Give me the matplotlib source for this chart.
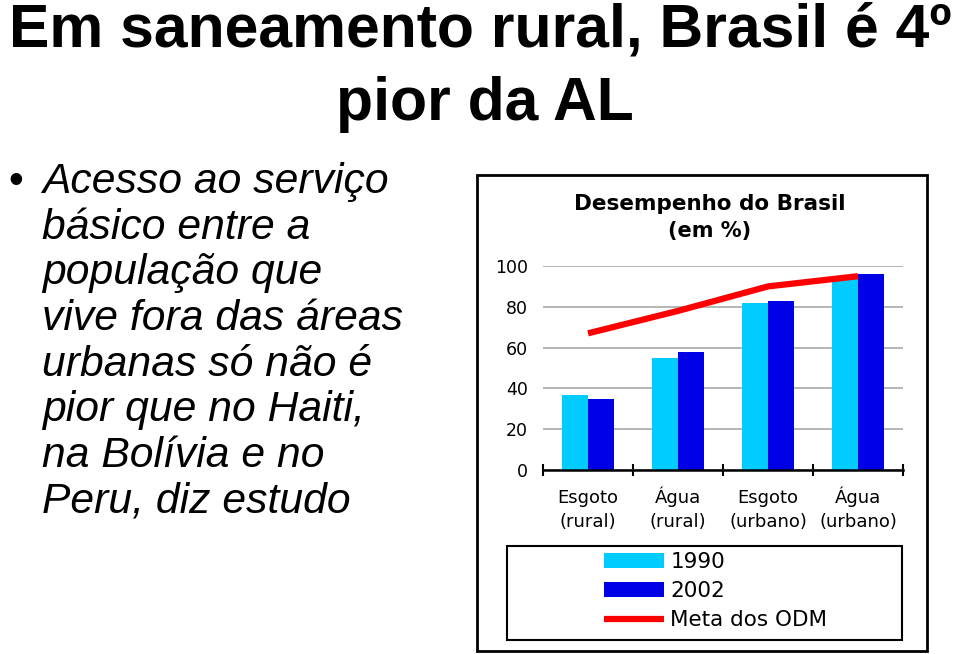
import matplotlib
matplotlib.use('Agg')
import matplotlib.pyplot as plt
from matplotlib.patches import Rectangle
import numpy as np

# data
categorias = ['Esgoto\n(rural)', 'Água\n(rural)', 'Esgoto\n(urbano)', 'Água\n(urbano)']
v1990 = [37, 55, 82, 94]
v2002 = [35, 58, 83, 96]
meta_odm = [67, 78, 90, 95]
yticks = [0, 20, 40, 60, 80, 100]

titulo1 = 'Em saneamento rural, Brasil é 4º'
titulo2 = 'pior da AL'
bullet = ['Acesso ao serviço', 'básico entre a', 'população que',
          'vive fora das áreas', 'urbanas só não é', 'pior que no Haiti,',
          'na Bolívia e no', 'Peru, diz estudo']

W, H = 960, 654
fig = plt.figure(figsize=(W / 100, H / 100), dpi=100)
fig.patch.set_facecolor('white')

def fx(px):
    return px / W

def fy(py):
    return 1 - py / H

# slide title
fig.text(0.5, fy(47), titulo1, ha='center', va='baseline', fontsize=43.7,
         fontweight='bold', family='Liberation Sans')
fig.text(fx(485), fy(120), titulo2, ha='center', va='baseline', fontsize=43.7,
         fontweight='bold', family='Liberation Sans')

# bullet text
fig.text(fx(8), fy(193), '•', ha='left', va='baseline', fontsize=30.5,
         family='Liberation Sans')
for i, linha in enumerate(bullet):
    fig.text(fx(42), fy(193 + 45.7 * i), linha, ha='left', va='baseline',
             fontsize=30.7, style='italic', family='Liberation Sans')

# chart picture frame
fig.patches.append(Rectangle((fx(477), fy(651)), fx(927) - fx(477), fy(175) - fy(651),
                             transform=fig.transFigure, facecolor='white',
                             edgecolor='black', lw=2, zorder=0))
fig.text(fx(710), fy(204), 'Desempenho do Brasil', ha='center', va='center',
         fontsize=15.5, fontweight='bold', family='DejaVu Sans')
fig.text(fx(710), fy(231), '(em %)', ha='center', va='center',
         fontsize=15, fontweight='bold', family='DejaVu Sans')

ax = fig.add_axes([fx(543), fy(470), fx(903) - fx(543), fy(266) - fy(470)])
ax.set_zorder(2)
ax.patch.set_alpha(0)
x = np.arange(len(categorias))
w = 0.29
b1 = ax.bar(x - w / 2, v1990, w, color='#00CCFF', label='1990', zorder=2)
b2 = ax.bar(x + w / 2, v2002, w, color='#0000E6', label='2002', zorder=2)
ln, = ax.plot(x, meta_odm, color='#FF0000', lw=4.5, solid_capstyle='butt',
              label='Meta dos ODM', zorder=3)

ax.set_xlim(-0.5, len(categorias) - 0.5)
ax.set_ylim(0, 100)
ax.set_yticks(yticks)
ax.set_yticklabels([str(t) for t in yticks], fontsize=12.5, family='DejaVu Sans')
ax.yaxis.grid(True, color='#B0B0B0', lw=1.3, zorder=0)
ax.set_axisbelow(True)
ax.tick_params(axis='y', length=0, pad=11)
ax.set_xticks(x)
ax.set_xticklabels(categorias, fontsize=13, family='DejaVu Sans', linespacing=1.45)
for lab in ax.get_xticklabels():
    lab.set_verticalalignment('baseline')
ax.tick_params(axis='x', which='major', length=0, pad=41)
ax.set_xticks(np.arange(-0.5, len(categorias)), minor=True)
ax.tick_params(axis='x', which='minor', direction='inout', length=9, width=1.5)
for s in ['top', 'left', 'right']:
    ax.spines[s].set_visible(False)
ax.spines['bottom'].set_linewidth(1.8)

# legend box
fig.patches.append(Rectangle((fx(507), fy(640)), fx(902) - fx(507), fy(546) - fy(640),
                             transform=fig.transFigure, facecolor='white',
                             edgecolor='black', lw=1.5, zorder=1))
leg = fig.legend([b1, b2, ln], ['1990', '2002', 'Meta dos ODM'], loc='center left',
                 bbox_to_anchor=(fx(593), fy(591)),
                 frameon=False, borderpad=0, handlelength=2.8, handleheight=0.7,
                 handletextpad=0.3, labelspacing=0.42,
                 prop={'family': 'DejaVu Sans', 'size': 15.5})
leg.set_zorder(5)

fig.savefig('out.png', dpi=100)
